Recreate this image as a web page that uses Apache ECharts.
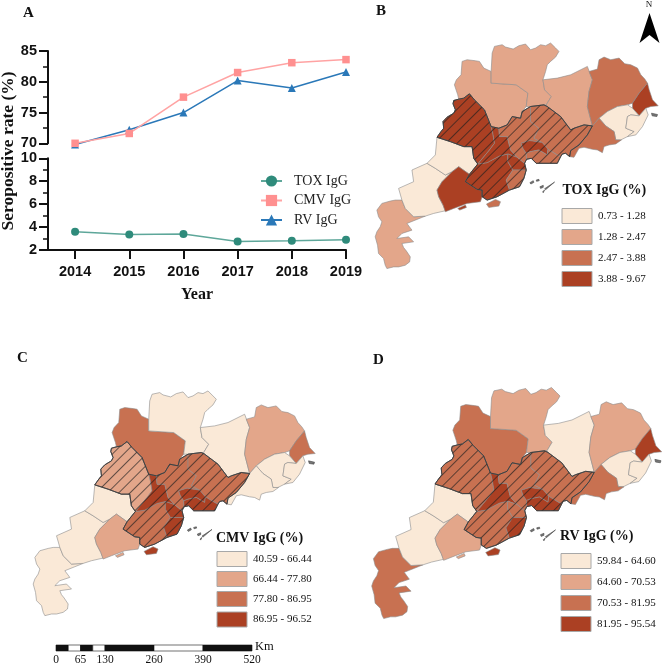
<!DOCTYPE html>
<html>
<head>
<meta charset="utf-8">
<style>
  html, body { margin: 0; padding: 0; background: #fff; }
  #chart { width: 669px; height: 665px; }
</style>
</head>
<body>
<div id="chart"></div>
<script src="https://cdn.jsdelivr.net/npm/echarts@6/dist/echarts.min.js"></script>
<script>
const years = [2014, 2015, 2016, 2017, 2018, 2019]
const toxRate = [3.6, 3.35, 3.4, 2.75, 2.8, 2.9]
const cmvRate = [70, 71.6, 77.5, 81.5, 83.1, 83.6]
const rvRate = [69.8, 72.2, 75, 80.2, 79, 81.6]

const classColors = ["#fae9d7", "#e3a68a", "#c87151", "#ab4023"]
const toxBreaks = ["0.73 - 1.28", "1.28 - 2.47", "2.47 - 3.88", "3.88 - 9.67"]
const cmvBreaks = ["40.59 - 66.44", "66.44 - 77.80", "77.80 - 86.95", "86.95 - 96.52"]
const rvBreaks = ["59.84 - 64.60", "64.60 - 70.53", "70.53 - 81.95", "81.95 - 95.54"]

const regionNames = ["Zhanjiang", "Maoming", "Yunfu", "Yangjiang", "Zhaoqing", "Jiangmen", "Foshan", "Zhongshan", "Zhuhai", "Guangzhou", "Huizhou", "Dongguan", "Shenzhen", "Qingyuan", "Shaoguan", "Heyuan", "Meizhou", "Chaozhou", "Jieyang", "Shantou", "Shanwei"]
const toxClass = [2, 1, 1, 4, 4, 4, 4, 4, 3, 3, 3, 4, 3, 2, 2, 2, 3, 4, 1, 1, 3]
const cmvClass = [1, 1, 1, 2, 2, 3, 4, 4, 4, 3, 3, 4, 4, 3, 1, 1, 2, 3, 1, 1, 1]
const rvClass = [3, 1, 1, 2, 3, 3, 4, 3, 4, 3, 3, 4, 4, 3, 2, 1, 2, 4, 1, 1, 3]

const scaleTicks = [0, 65, 130, 260, 390, 520]

// city outlines (flipped when the geojson is built)
const outlines = {
  Zhanjiang: [[[20,630],[35,610],[60,603],[75,600],[95,600],[105,625],[130,650],[165,648],[140,658],[110,670],[125,690],[95,700],[80,715],[115,710],[130,725],[95,730],[100,742],[108,752],[120,770],[118,785],[105,795],[85,800],[70,800],[50,805],[45,795],[40,775],[25,760],[22,735],[15,710],[20,695],[30,680],[35,665],[25,650]]],
  Maoming: [[[85,565],[130,545],[125,510],[170,490],[195,505],[225,525],[245,515],[215,545],[200,570],[205,590],[218,615],[225,632],[190,640],[165,648],[130,650],[105,625],[95,600]]],
  Yunfu: [[[200,412],[240,425],[280,440],[305,440],[310,475],[322,492],[310,510],[297,523],[265,500],[245,515],[225,525],[195,505],[170,490],[195,465]]],
  Yangjiang: [[[265,500],[297,523],[285,545],[320,568],[335,570],[335,590],[330,605],[290,610],[250,625],[225,635],[218,615],[205,590],[200,570],[215,545],[245,515]], [[262,625],[285,615],[288,622],[268,630]]],
  Zhaoqing: [[[297,282],[312,300],[342,330],[362,380],[367,400],[372,430],[357,450],[322,492],[310,475],[305,440],[280,440],[240,425],[200,412],[212,395],[220,385],[218,365],[230,352],[250,340],[255,330],[248,312],[250,302],[265,298],[280,295]]],
  Jiangmen: [[[285,545],[297,523],[322,492],[350,488],[387,468],[412,462],[412,485],[427,510],[407,540],[417,570],[380,590],[350,600],[335,590],[335,570],[320,568]]],
  Foshan: [[[362,380],[385,385],[387,410],[410,410],[420,450],[440,472],[412,462],[387,468],[350,488],[322,492],[357,450],[372,430],[367,400]]],
  Zhongshan: [[[412,462],[440,472],[462,490],[467,510],[445,510],[427,510],[412,485]]],
  Zhuhai: [[[427,510],[445,510],[467,510],[460,535],[447,560],[417,570],[407,540]], [[348,612],[375,598],[390,605],[385,618],[355,622]]],
  Guangzhou: [[[385,385],[410,375],[425,350],[450,355],[455,335],[480,320],[480,365],[505,385],[490,415],[515,428],[477,422],[452,430],[457,445],[467,460],[468,478],[462,490],[440,472],[420,450],[410,410],[387,410]]],
  Huizhou: [[[480,320],[520,315],[530,320],[570,350],[600,390],[610,385],[640,375],[665,378],[650,405],[625,435],[600,452],[597,470],[585,460],[575,462],[570,470],[560,465],[532,448],[515,428],[490,415],[505,385],[480,365]]],
  Dongguan: [[[452,430],[477,422],[515,428],[532,448],[530,465],[505,450],[480,455],[467,460],[457,445]]],
  Shenzhen: [[[467,460],[480,455],[505,450],[530,465],[532,448],[560,465],[570,470],[560,490],[537,490],[497,490],[482,475],[468,478]]],
  Qingyuan: [[[275,185],[290,180],[315,183],[327,185],[340,205],[362,215],[362,250],[437,255],[472,280],[467,320],[455,335],[450,355],[425,350],[410,375],[385,385],[362,380],[342,330],[312,300],[297,282],[280,295],[265,298],[262,285],[252,255],[258,240],[272,225]]],
  Shaoguan: [[[365,160],[372,140],[395,135],[405,142],[428,148],[445,138],[465,133],[480,150],[495,145],[510,135],[525,138],[540,130],[555,145],[565,155],[555,172],[540,185],[530,195],[525,215],[517,240],[522,270],[542,290],[527,315],[520,315],[480,320],[467,320],[472,280],[437,255],[362,250],[362,215]]],
  Heyuan: [[[517,240],[560,235],[600,225],[650,200],[665,240],[655,275],[650,320],[665,378],[640,375],[610,385],[600,390],[570,350],[530,320],[527,315],[542,290],[522,270]]],
  Meizhou: [[[655,215],[680,208],[685,180],[700,172],[720,180],[745,175],[762,192],[780,195],[800,205],[810,225],[822,238],[830,250],[805,280],[785,310],[770,315],[740,320],[710,335],[685,355],[665,378],[650,320],[655,275],[665,240]]],
  Chaozhou: [[[830,250],[835,270],[845,300],[862,318],[840,320],[825,325],[805,348],[785,325],[785,310],[805,280]]],
  Jieyang: [[[685,355],[710,335],[740,320],[770,315],[785,325],[805,348],[780,345],[770,350],[765,385],[790,395],[770,410],[750,420],[735,420],[730,395],[705,378]]],
  Shantou: [[[805,348],[825,325],[832,345],[815,380],[795,405],[770,410],[790,395],[765,385],[770,350],[780,345]]],
  Shanwei: [[[665,378],[685,355],[705,378],[730,395],[735,420],[752,420],[735,432],[715,435],[700,440],[695,458],[680,450],[665,448],[640,442],[625,445],[610,472],[597,470],[600,452],[625,435],[650,405]]],
  Islets: [[[478,548],[488,542],[490,547],[481,552]], [[497,540],[505,538],[506,542],[498,544]], [[508,560],[518,556],[518,562],[510,565]], [[522,566],[552,546],[553,548],[525,569]], [[516,575],[522,570],[524,572],[518,578]], [[842,340],[860,344],[858,350],[844,348]]],
  Hatch: [[[297,282],[312,300],[342,330],[362,380],[385,385],[410,375],[425,350],[450,355],[455,335],[480,320],[520,315],[530,320],[570,350],[600,390],[610,385],[640,375],[665,378],[650,405],[625,435],[600,452],[597,470],[585,460],[575,462],[570,470],[560,490],[537,490],[497,490],[482,475],[468,478],[462,490],[467,510],[460,535],[447,560],[417,570],[380,590],[350,600],[335,590],[335,570],[320,568],[285,545],[297,523],[322,492],[310,475],[305,440],[280,440],[240,425],[200,412],[212,395],[220,385],[218,365],[230,352],[250,340],[255,330],[248,312],[250,302],[265,298],[280,295]]]
}

const features = Object.keys(outlines).map((name) => ({
  type: "Feature",
  properties: { name },
  geometry: {
    type: "MultiPolygon",
    coordinates: outlines[name].map((ring) => [ring.map((p) => [p[0], -p[1]])]),
  },
}))
// map series on one map name get merged, so each panel registers its own
;["guangdongB", "guangdongC", "guangdongD"].forEach((key) => {
  echarts.registerMap(key, { type: "FeatureCollection", features })
})

const serif = "Liberation Serif"
const sans = "Liberation Sans"

function panelData(classes) {
  const rows = regionNames.map((name, i) => ({
    name,
    value: classes[i],
    itemStyle: { areaColor: classColors[classes[i] - 1] },
  }))
  rows.push({ name: "Islets", value: 0, itemStyle: { areaColor: "#777", borderColor: "#444" } })
  rows.push({
    name: "Hatch",
    value: 0,
    itemStyle: {
      areaColor: "transparent",
      borderColor: "#3a3a3a",
      borderWidth: 0.7,
      decal: {
        symbol: "rect",
        symbolSize: 1,
        dashArrayX: [1, 0],
        dashArrayY: [1, 7],
        rotation: -Math.PI / 4,
        color: "rgba(30, 30, 30, 0.65)",
      },
    },
  })
  return rows
}

function mapSeries(key, classes, center, size) {
  return {
    type: "map",
    map: key,
    aspectScale: 1,
    layoutCenter: center,
    layoutSize: size,
    silent: true,
    selectedMode: false,
    showLegendSymbol: false,
    label: { show: false },
    emphasis: { disabled: true },
    itemStyle: { borderColor: "#8c8c8c", borderWidth: 0.6 },
    data: panelData(classes),
  }
}

function text(x, y, str, font, extra) {
  return {
    type: "text",
    x,
    y,
    silent: true,
    style: { text: str, fill: "#111", textVerticalAlign: "middle", font, ...extra },
  }
}

function mapLegend(title, breaks, titlePos, x, rowY) {
  const out = [text(titlePos[0], titlePos[1], title, `bold 14px "${serif}"`)]
  breaks.forEach((label, i) => {
    out.push({
      type: "rect",
      silent: true,
      shape: { x, y: rowY[i] - 7.5, width: 30, height: 15 },
      style: { fill: classColors[i], stroke: "#a8a8a8", lineWidth: 1 },
    })
    out.push(text(x + 36, rowY[i], label, `11px "${serif}"`))
  })
  return out
}

function scaleBar() {
  const out = []
  const x0 = 56
  const kmPx = (252 - 56) / 520
  // first two classes are cut in half on the bar
  const stops = [0, 32.5, 65, 97.5, 130, 260, 390, 520]
  for (let i = 0; i < stops.length - 1; i++) {
    out.push({
      type: "rect",
      silent: true,
      shape: { x: x0 + stops[i] * kmPx, y: 645, width: (stops[i + 1] - stops[i]) * kmPx, height: 6 },
      style: { fill: i % 2 === 0 ? "#111" : "#fff", stroke: "#111", lineWidth: 0.6 },
    })
  }
  scaleTicks.forEach((v) => {
    out.push(text(x0 + v * kmPx, 660, String(v), `11.5px "${serif}"`, { textAlign: "center" }))
  })
  out.push(text(255, 647, "Km", `12.5px "${serif}"`))
  return out
}

function lineSeries(name, rates, color, lineColor, symbol, size, axisIdx) {
  return {
    name,
    type: "line",
    xAxisIndex: axisIdx,
    yAxisIndex: axisIdx,
    clip: false,
    data: years.map((y, i) => [y, rates[i]]),
    symbol,
    symbolSize: size,
    itemStyle: { color },
    lineStyle: { color: lineColor, width: 1.5 },
  }
}

function yAxis(gridIndex, min, max, interval) {
  return {
    type: "value",
    gridIndex,
    min,
    max,
    interval,
    splitLine: { show: false },
    axisLine: { show: true, lineStyle: { color: "#111", width: 2 } },
    axisTick: { show: true, length: 9, lineStyle: { color: "#111", width: 2 } },
    minorTick: { show: true, splitNumber: 2, length: 5, lineStyle: { color: "#111", width: 1.5 } },
    axisLabel: { color: "#111", fontFamily: sans, fontWeight: "bold", fontSize: 14.5, margin: 11 },
  }
}

const chart = echarts.init(document.getElementById("chart"), null, { renderer: "canvas" })

chart.setOption({
  animation: false,
  backgroundColor: "#fff",
  grid: [
    { left: 48, width: 298, top: 51, height: 92.3 },
    { left: 48, width: 298, top: 158.3, height: 91.7 },
  ],
  xAxis: [
    { type: "value", gridIndex: 0, min: 2013.5, max: 2019, show: false, splitLine: { show: false } },
    {
      type: "value",
      gridIndex: 1,
      min: 2013.5,
      max: 2019,
      name: "Year",
      nameLocation: "middle",
      nameGap: 37,
      nameTextStyle: { color: "#111", fontFamily: serif, fontWeight: "bold", fontSize: 16 },
      splitLine: { show: false },
      axisLine: { show: true, lineStyle: { color: "#111", width: 2 } },
      axisTick: { show: true, length: 9, customValues: years, lineStyle: { color: "#111", width: 2 } },
      axisLabel: {
        customValues: years,
        formatter: (v) => String(v),
        color: "#111",
        fontFamily: sans,
        fontWeight: "bold",
        fontSize: 14.5,
        margin: 14,
      },
    },
  ],
  yAxis: [yAxis(0, 70, 85, 5), yAxis(1, 2, 10, 2)],
  legend: {
    data: ["TOX IgG", "CMV IgG", "RV IgG"],
    orient: "vertical",
    left: 255,
    top: 169,
    itemWidth: 21,
    itemHeight: 14,
    itemGap: 5.5,
    textStyle: { fontFamily: serif, fontSize: 14, color: "#222", padding: [0, 0, 0, 7] },
  },
  series: [
    lineSeries("TOX IgG", toxRate, "#2f8b7b", "#5ea79a", "circle", 8, 1),
    lineSeries("RV IgG", rvRate, "#2a78b8", "#2a78b8", "triangle", 8, 0),
    lineSeries("CMV IgG", cmvRate, "#ff9090", "#ffa3a3", "rect", 7.5, 0),
    mapSeries("guangdongB", toxClass, [516.7, 155.8], 283),
    mapSeries("guangdongC", cmvClass, [174.2, 503.3], 282),
    mapSeries("guangdongD", rvClass, [516.7, 503], 290),
  ],
  graphic: [
    text(23, 13, "A", `bold 15px "${serif}"`),
    text(376, 11, "B", `bold 15px "${serif}"`),
    text(17, 358, "C", `bold 15px "${serif}"`),
    text(373, 360, "D", `bold 15px "${serif}"`),
    {
      type: "text",
      x: 8,
      y: 151,
      rotation: Math.PI / 2,
      silent: true,
      style: {
        text: "Seropositive rate (%)",
        fill: "#111",
        font: `bold 17.5px "${serif}"`,
        textAlign: "center",
        textVerticalAlign: "middle",
      },
    },
    text(649, 5, "N", `9px "${serif}"`, { textAlign: "center" }),
    {
      type: "polygon",
      silent: true,
      shape: { points: [[649.5, 13], [659.5, 43], [649.5, 35], [639.5, 43]] },
      style: { fill: "#000" },
    },
    ...mapLegend("TOX IgG (%)", toxBreaks, [562.5, 190], 562, [216, 237, 258, 279]),
    ...mapLegend("CMV IgG (%)", cmvBreaks, [216, 538], 217, [559, 579, 599, 619.5]),
    ...mapLegend("RV IgG (%)", rvBreaks, [560, 536], 561, [561, 582, 603, 624]),
    ...scaleBar(),
  ],
})
</script>
</body>
</html>
